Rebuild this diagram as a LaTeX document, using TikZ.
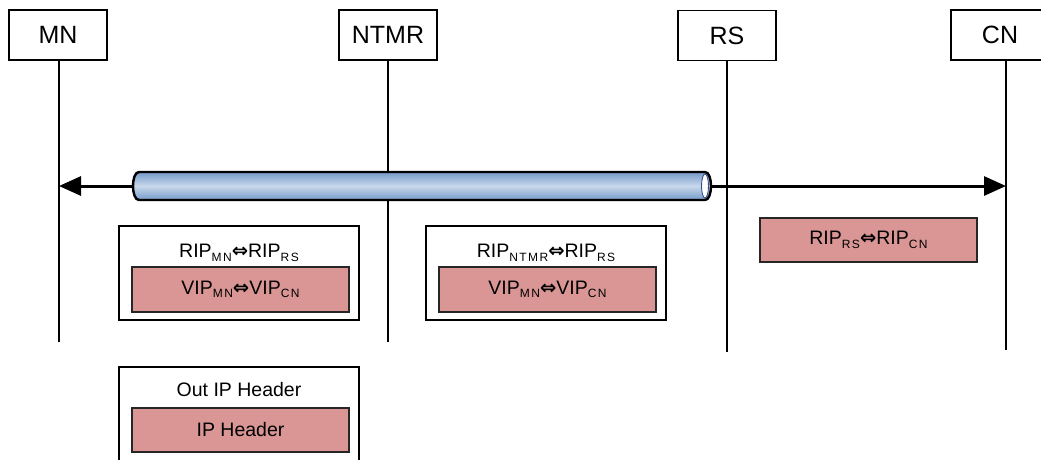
\documentclass[tikz,border=0pt]{standalone}
\usepackage{fontspec}
\setmainfont{Liberation Sans}
\newfontfamily\symfont{DejaVu Sans}
\usetikzlibrary{arrows.meta}
\definecolor{pinkfill}{HTML}{D99694}
\definecolor{tubeedge}{HTML}{7499C8}
\definecolor{tubemid}{HTML}{C9D8EC}
\definecolor{tubering}{HTML}{3A4F8C}
\newcommand{\sbs}[1]{\raisebox{-0.35ex}{\fontsize{12}{12}\selectfont\addfontfeatures{LetterSpace=12}#1}}
\newcommand{\lra}{{\symfont\bfseries ⇔}}
\tikzset{
  actor/.style={draw=black, line width=1.1pt, fill=white, minimum width=98pt, minimum height=50pt, inner sep=0pt, font=\fontsize{25}{25}\selectfont},
  life/.style={line width=1.1pt},
  outerbox/.style={draw=black, line width=1.1pt, fill=white, minimum width=240pt, minimum height=94pt, inner sep=0pt},
  pinkbox/.style={draw=black!85, line width=1.4pt, fill=pinkfill, minimum width=217pt, minimum height=45pt, inner sep=0pt, font=\fontsize{19.5}{19.5}\selectfont},
  boxlabel/.style={inner sep=0pt, font=\fontsize{19.5}{19.5}\selectfont},
  flow/.style={line width=3pt, {Triangle[length=22pt,width=19pt]}-{Triangle[length=22pt,width=19pt]}}
}
\begin{document}
\begin{tikzpicture}[x=1pt,y=-1pt]
\useasboundingbox (0,0) rectangle (1041,459);
% lifelines
\coordinate (MNe) at (59,342);
\coordinate (NTe) at (388,342);
\coordinate (RSe) at (727,352);
\coordinate (CNe) at (1006,350);
\node[actor] (MN) at (58,35) {MN};
\node[actor] (NT) at (388,35) {NTMR};
\node[actor] (RS) at (727,35.5) {RS};
\node[actor] (CN) at (1000,35) {CN};
\draw[life] (MN.south -| MNe) -- (MNe);
\draw[life] (NT.south -| NTe) -- (NTe);
\draw[life] (RS.south -| RSe) -- (RSe);
\draw[life] (CN.south -| CNe) -- (CNe);
% flow arrow
\coordinate (aL) at (59,186);
\coordinate (aR) at (1006,186);
\draw[flow] (aL) -- (aR);
% tube
\path[top color=tubeedge, bottom color=tubeedge, middle color=tubemid]
  (139,172) -- (705,172) .. controls (713,172) and (713,200) .. (705,200)
  -- (139,200) .. controls (131,200) and (131,172) .. (139,172) -- cycle;
\draw[line width=2.4pt] (139,172) -- (705,172) .. controls (713,172) and (713,200) .. (705,200)
  -- (139,200) .. controls (131,200) and (131,172) .. (139,172) -- cycle;
\draw[tubering, line width=0.9pt, fill=white] (705,186) ellipse [x radius=3.5, y radius=12];
% boxes
\node[outerbox] (B1) at (239,273) {};
\node[boxlabel] (B1l) at (239,253) {RIP\sbs{MN}\lra RIP\sbs{RS}};
\node[pinkbox] (B1i) at (240.5,289.5) {VIP\sbs{MN}\lra VIP\sbs{CN}};
\node[outerbox] (B2) at (546,273) {};
\node[boxlabel] (B2l) at (546,253) {RIP\sbs{NTMR}\lra RIP\sbs{RS}};
\node[pinkbox] (B2i) at (547.5,289.5) {VIP\sbs{MN}\lra VIP\sbs{CN}};
\node[pinkbox, minimum height=44pt] (B3) at (868.5,240) {RIP\sbs{RS}\lra RIP\sbs{CN}};
\node[outerbox, minimum height=100pt] (B4) at (239,417) {};
\node[boxlabel] (B4l) at (239,390) {Out IP Header};
\node[pinkbox, minimum height=44pt] (B4i) at (240.5,430) {IP Header};
\end{tikzpicture}
\end{document}
